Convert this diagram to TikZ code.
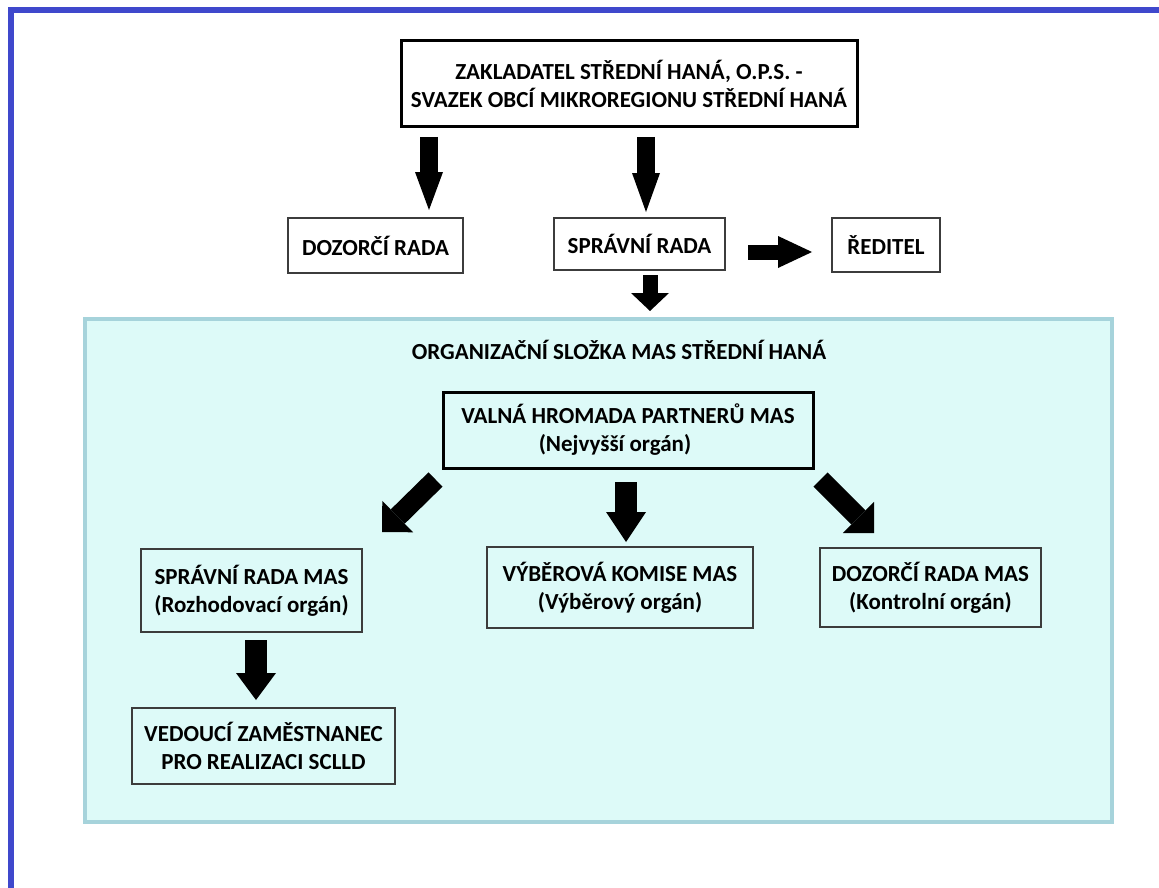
\documentclass[tikz,border=0pt]{standalone}
\usepackage{fontspec}
\setmainfont{Carlito}
\usetikzlibrary{arrows.meta}
\definecolor{frameblue}{RGB}{63,72,204}
\definecolor{orgfill}{RGB}{221,250,248}
\definecolor{orgline}{RGB}{166,211,219}
\definecolor{boxline}{RGB}{60,60,60}
\tikzset{
  txt/.style={font=\bfseries\fontsize{23}{28}\selectfont, align=center, text=black},
  thinbox/.style={txt, draw=boxline, line width=1.5pt, inner sep=0pt},
  thickbox/.style={txt, draw=black, line width=3pt, inner sep=0pt},
}
\begin{document}
\begin{tikzpicture}[x=1pt,y=-1pt]
\useasboundingbox (0,0) rectangle (1159,888);
\fill[white] (0,0) rectangle (1159,888);
% blue frame (top and left)
\fill[frameblue] (8,7) rectangle (1159,13);
\fill[frameblue] (8,7) rectangle (14,888);
% organisational area
\draw[orgline, fill=orgfill, line width=4pt] (85,319) rectangle (1112,822);
\node[txt] (orgtitle) at (619,350) {ORGANIZAČNÍ SLOŽKA MAS STŘEDNÍ HANÁ};

% boxes
\node[thickbox, minimum width=456pt, minimum height=86pt] (zakl) at (629,84)
  {ZAKLADATEL STŘEDNÍ HANÁ, O.P.S. -\\SVAZEK OBCÍ MIKROREGIONU STŘEDNÍ HANÁ};
\node[thinbox, minimum width=175pt, minimum height=55pt] (dozor) at (375.5,245.5) {DOZORČÍ RADA};
\node[thinbox, minimum width=171pt, minimum height=52pt] (sprav) at (639.5,244) {SPRÁVNÍ RADA};
\node[thinbox, minimum width=108pt, minimum height=54pt] (red) at (886,245) {ŘEDITEL};
\node[thickbox, minimum width=370pt, minimum height=76pt] (valna) at (628,430)
  {VALNÁ HROMADA PARTNERŮ MAS\\\hspace*{-26pt}(Nejvyšší orgán)};
\node[thinbox, minimum width=221pt, minimum height=83pt] (spmas) at (251.5,590.5)
  {SPRÁVNÍ RADA MAS\\(Rozhodovací orgán)};
\node[thinbox, minimum width=266pt, minimum height=81pt] (vyber) at (620,587.5)
  {VÝBĚROVÁ KOMISE MAS\\(Výběrový orgán)};
\node[thinbox, minimum width=221pt, minimum height=79pt] (dzmas) at (930.5,587.5)
  {DOZORČÍ RADA MAS\\(Kontrolní orgán)};
\node[thinbox, minimum width=263pt, minimum height=76pt] (ved) at (263.5,746)
  {VEDOUCÍ ZAMĚSTNANEC\\PRO REALIZACI SCLLD};

% arrow end points
\coordinate (a1s) at (429,137); \coordinate (a1e) at (429,210);
\coordinate (a2s) at (646,137); \coordinate (a2e) at (646,212);
\coordinate (a3s) at (650,275); \coordinate (a3e) at (650,311);
\coordinate (a4s) at (748,252); \coordinate (a4e) at (812,252);
\coordinate (a5s) at (435.5,479.5); \coordinate (a5e) at (382,532);
\coordinate (a6s) at (626,482); \coordinate (a6e) at (626,542);
\coordinate (a7s) at (820.5,479.5); \coordinate (a7e) at (874,533);
\coordinate (a8s) at (256,640); \coordinate (a8e) at (256,700);

\draw[line width=18pt, -{Triangle[length=38pt,width=28pt,line width=0pt]}] (a1s) -- (a1e);
\draw[line width=18pt, -{Triangle[length=39pt,width=28pt,line width=0pt]}] (a2s) -- (a2e);
\draw[line width=15pt, -{Triangle[length=18pt,width=38pt,line width=0pt]}] (a3s) -- (a3e);
\draw[line width=15pt, -{Triangle[length=34pt,width=32pt,line width=0pt]}] (a4s) -- (a4e);
\draw[line width=20pt, -{Triangle[length=22pt,width=44pt,line width=0pt]}] (a5s) -- (a5e);
\draw[line width=22pt, -{Triangle[length=30pt,width=40pt,line width=0pt]}] (a6s) -- (a6e);
\draw[line width=20pt, -{Triangle[length=22pt,width=44pt,line width=0pt]}] (a7s) -- (a7e);
\draw[line width=22pt, -{Triangle[length=27pt,width=40pt,line width=0pt]}] (a8s) -- (a8e);
\end{tikzpicture}
\end{document}
